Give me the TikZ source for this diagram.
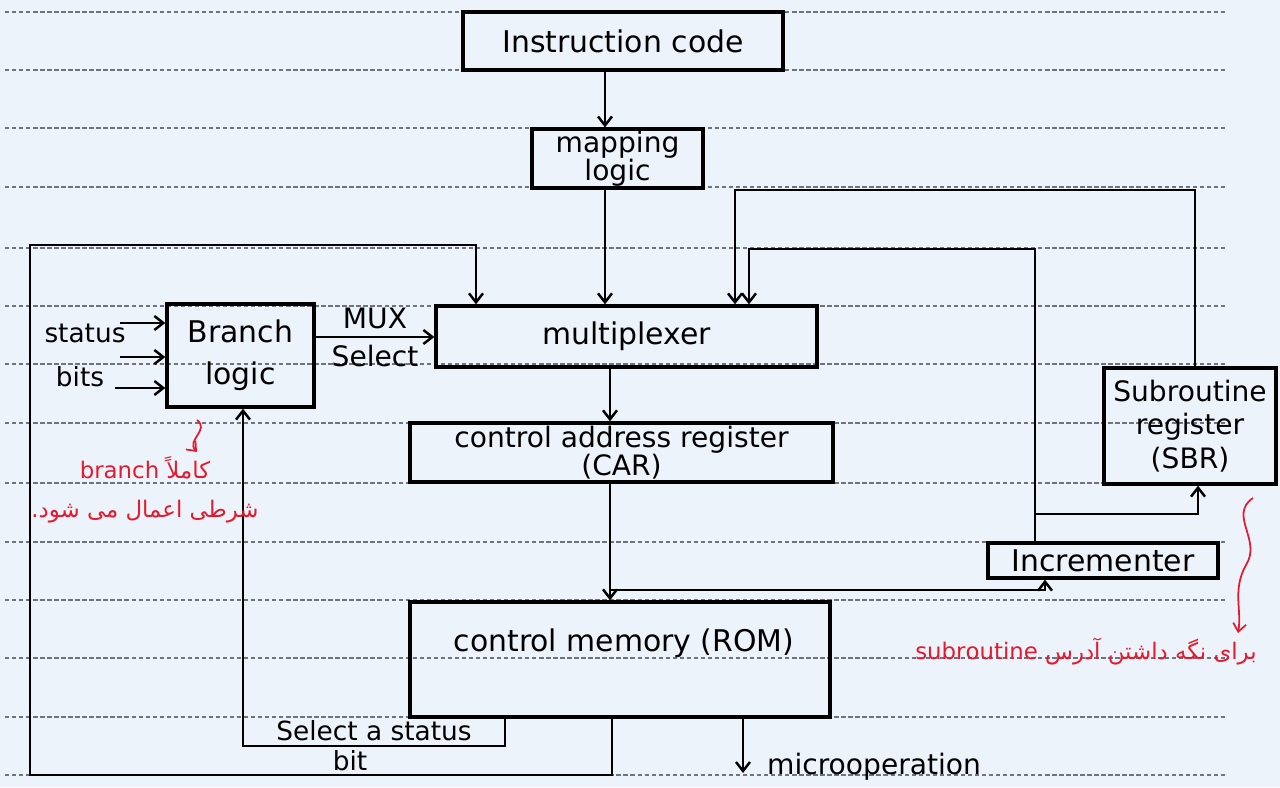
\documentclass[tikz,border=0pt]{standalone}
\usepackage{fontspec}
\setmainfont{DejaVu Sans}
\newfontfamily\farsifont[Script=Arabic]{DejaVu Sans}
\TeXXeTstate=1
\usetikzlibrary{positioning, arrows.meta}

\definecolor{paper}{RGB}{237,243,250}
\definecolor{ruleline}{RGB}{110,115,125}
\definecolor{redpen}{RGB}{226,28,48}

\begin{document}
\begin{tikzpicture}[
  x=0.02cm, y=-0.02cm,
  font=\fontsize{17}{20}\selectfont,
  block/.style={draw=black, line width=1.9pt, align=center, inner sep=1pt},
  flow/.style={-{Straight Barb[length=1.8mm, width=2.8mm]}, line width=1.4pt},
  lbl/.style={font=\fontsize{16}{18}\selectfont, inner sep=1pt},
  ruled/.style={draw=ruleline, line width=0.7pt, dash pattern=on 2.5pt off 1.5pt},
  rednote/.style={text=redpen, font=\farsifont\fontsize{13}{22}\selectfont, align=center},
  redarrow/.style={draw=redpen, -{Straight Barb[length=1.6mm, width=2.6mm]}, line width=1pt}
]
\fill[paper] (0,0) rectangle (1280,787);
\useasboundingbox (0,0) rectangle (1280,787);

% --- lined paper ---
\draw[ruled] (5,12) -- (1225,12) (5,70) -- (1225,70) (5,128) -- (1225,128)
  (5,187) -- (1225,187) (5,248) -- (1225,248) (5,306) -- (1225,306)
  (5,364) -- (1225,364) (5,423) -- (1225,423) (5,483) -- (1225,483)
  (5,542) -- (1225,542) (5,600) -- (1225,600) (5,658) -- (1225,658)
  (5,717) -- (1225,717) (5,775) -- (1225,775);

% --- blocks ---
\node[block, minimum width=6.4cm, minimum height=1.16cm] (instr) at (623,41) {Instruction code};
\node[block, minimum width=3.42cm, minimum height=1.14cm, font=\fontsize{16}{16}\selectfont] (maplogic) at (617.5,158.5) {mapping\\logic};
\node[block, minimum width=7.62cm, minimum height=1.22cm] (mux) at (626.5,336.5) {multiplexer};
\node[block, minimum width=2.94cm, minimum height=2.06cm, font=\fontsize{17}{24}\selectfont] (brlogic) at (240.5,355.5) {Branch\\logic};
\node[block, minimum width=8.46cm, minimum height=1.18cm, font=\fontsize{16}{16}\selectfont] (car) at (621.5,452.5) {control address register\\(CAR)};
\node[block, minimum width=3.44cm, minimum height=2.32cm, font=\fontsize{16}{19}\selectfont] (sbr) at (1190,426) {Subroutine\\register\\(SBR)};
\node[block, minimum width=4.6cm, minimum height=0.7cm] (incr) at (1103,560.5) {Incrementer};
\node[block, minimum width=8.4cm, minimum height=2.3cm] (rom) at (620,659.5) {\phantom{x}};
\node (romtext) at (624,643) {control memory (ROM)};

% --- branch logic inputs and output ---
\coordinate (in1) at (120,323);
\coordinate (in2) at (120,357);
\coordinate (in3) at (115,388);
\draw[flow] (in1) -- (brlogic.west |- in1);
\draw[flow] (in2) -- (brlogic.west |- in2);
\draw[flow] (in3) -- (brlogic.west |- in3);
\node[lbl, font=\fontsize{15}{17}\selectfont] (statuslbl) at (85,333) {status};
\node[lbl, font=\fontsize{15}{17}\selectfont] (bitslbl) at (80,377) {bits};
\draw[flow] (brlogic.east |- 0,337) -- (mux.west |- 0,337)
  node[lbl, midway, above=3pt] (muxlbl) {MUX}
  node[lbl, midway, below=3pt] (sellbl) {Select};

% --- main vertical path ---
\draw[flow] (instr.south -| 605,0) -- (maplogic.north -| 605,0);
\draw[flow] (maplogic.south -| 605,0) -- (mux.north -| 605,0);
\draw[flow] (mux.south -| 610,0) -- (car.north -| 610,0);
\draw[flow] (car.south -| 610,0) -- (rom.north -| 610,0);

% --- incrementer and subroutine register ---
\coordinate (cartap) at (610,590);
\coordinate (incrtap) at (1035,514);
\draw[flow] (cartap) -| (incr.south -| 1045,0);
\draw[flow] (incr.north -| 1035,0) |- (749,249) -- (mux.north -| 749,0);
\draw[flow] (incrtap) -| (sbr.south -| 1198,0);
\draw[flow] (sbr.north -| 1195,0) |- (735,190) -- (mux.north -| 735,0);

% --- loop back from control memory ---
\coordinate (botleft) at (30,775);
\coordinate (topleft) at (30,245);
\draw[flow] (rom.south -| 612,0) |- (botleft) -- (topleft) -| (mux.north -| 476,0);

% --- status bit select ---
\coordinate (selcorner) at (243,746);
\draw[flow] (rom.south -| 505,0) |- (selcorner) -- (selcorner |- brlogic.south);
\node[lbl, font=\fontsize{15}{17}\selectfont] (seltext) at (374,731) {Select a status};
\node[lbl, font=\fontsize{15}{17}\selectfont] (bittext) at (350,761) {bit};

% --- microoperation output ---
\coordinate (microout) at (743,773);
\draw[flow] (rom.south -| 743,0) -- (microout);
\node[lbl, anchor=west] (microlbl) at (765,767) {microoperation};

% --- red notes ---
\draw[redarrow] (197,420) .. controls (210,430) and (186,440) .. (197,452);
\node[rednote] (brnote) at (145,490)
  {\beginR کاملاً \beginL branch\endL\endR\\\beginR شرطی اعمال می شود.\endR};
\draw[redarrow] (1253,498) .. controls (1228,515) and (1262,540) .. (1246,565)
  .. controls (1232,590) and (1242,610) .. (1238,633);
\node[rednote] (subnote) at (1086,652)
  {\beginR برای نگه داشتن آدرس \beginL subroutine\endL\endR};

\end{tikzpicture}
\end{document}
